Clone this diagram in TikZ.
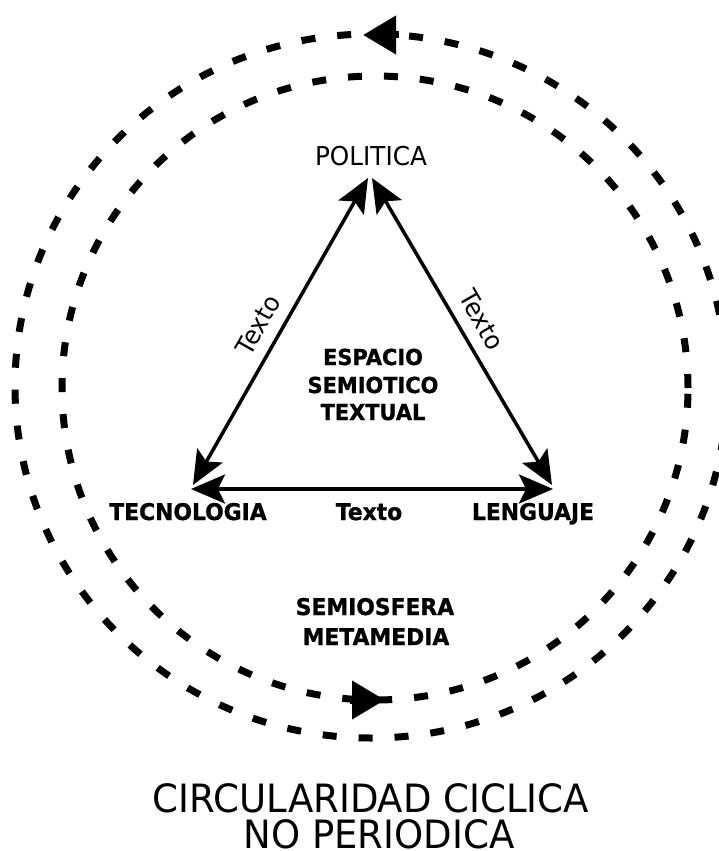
\documentclass[tikz,border=0pt]{standalone}
\usepackage{fontspec}
\setmainfont{DejaVu Sans}[FakeStretch=0.95, BoldFeatures={FakeBold=1}]
\usetikzlibrary{arrows.meta}
\begin{document}
\begin{tikzpicture}[x=1pt,y=-1pt,
  dashring/.style={line width=7pt, dash pattern=on 14pt off 22pt},
  ringtip/.style={line width=7pt, -{Triangle[length=33pt,width=37pt]}},
  side/.style={line width=3.5pt, {Stealth[length=34pt,width=29pt,inset=7pt]}-{Stealth[length=34pt,width=29pt,inset=7pt]}},
  lab/.style={font=\bfseries\fontsize{23}{23}\selectfont, anchor=base, inner sep=0pt},
  mid/.style={font=\bfseries\fontsize{22}{28}\selectfont, align=center, anchor=base, inner sep=0pt},
  sidelab/.style={font=\fontsize{25.5}{25.5}\selectfont, inner sep=0pt},
  big/.style={font=\fontsize{39}{40}\selectfont, anchor=base, inner sep=0pt}]
\useasboundingbox (0,0) rectangle (719,851);
% rings
\draw[dashring] (371,386) ellipse [x radius=356pt, y radius=352pt];
\draw[dashring] (375,388) ellipse [x radius=313pt, y radius=312pt];
\coordinate (otb) at (399,35);
\coordinate (ott) at (363,35);
\coordinate (ibb) at (350,700);
\coordinate (ibt) at (385,700);
\draw[ringtip] (otb) -- (ott);
\draw[ringtip] (ibb) -- (ibt);
% triangle corners
\coordinate (apL) at (368,178);
\coordinate (apR) at (372,178);
\coordinate (blD) at (193,485);
\coordinate (blH) at (191,489);
\coordinate (brD) at (552,485);
\coordinate (brH) at (553,489);
\draw[side] (blD) -- (apL);
\draw[side] (brD) -- (apR);
\draw[side] (blH) -- (brH);
% labels
\node[lab, font=\fontsize{26}{26}\selectfont] (pol) at (371,165) {POLITICA};
\node[lab] (tec) at (188,520) {TECNOLOGIA};
\node[lab] (txb) at (369,520) {Texto};
\node[lab] (len) at (533,520) {LENGUAJE};
\node[sidelab, rotate=60.4] (txl) at (258,325) {Texto};
\node[sidelab, rotate=-60] (txr) at (482,320) {Texto};
\node[mid] (esp) at (373,365) {ESPACIO};
\node[mid] (sem) at (373,393) {SEMIOTICO};
\node[mid] (tex) at (373,420) {TEXTUAL};
\node[lab] (sf) at (375,615) {SEMIOSFERA};
\node[lab] (mm) at (376,645) {METAMEDIA};
\node[big] (cc) at (371,812) {CIRCULARIDAD CICLICA};
\node[big] (np) at (379,848) {NO PERIODICA};
\end{tikzpicture}
\end{document}
